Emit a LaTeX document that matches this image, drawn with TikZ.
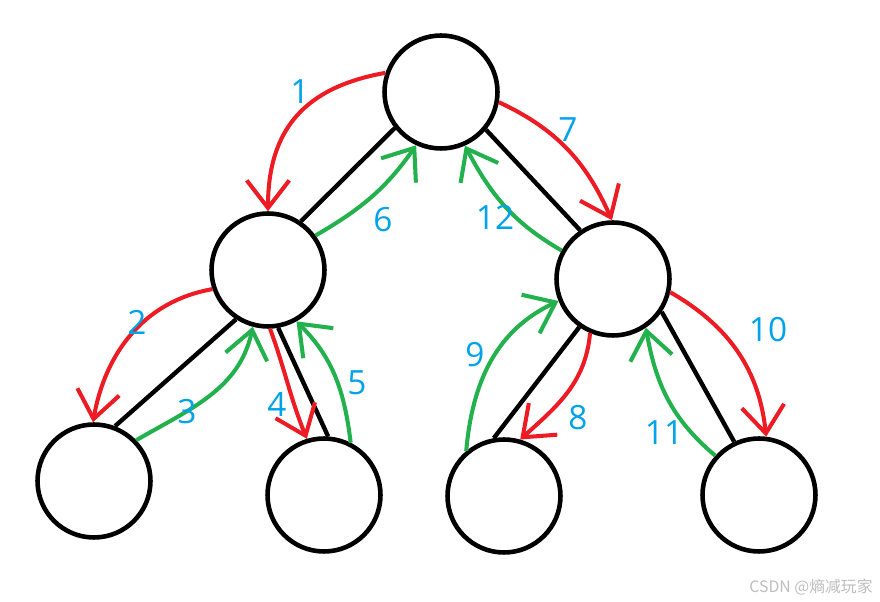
\documentclass[tikz,border=0pt]{standalone}
\usepackage{fontspec}
\setmainfont{Open Sans}
\newfontfamily\cjkfont{Noto Sans CJK SC}
\usetikzlibrary{arrows.meta}
\definecolor{paintred}{RGB}{237,28,36}
\definecolor{paintgreen}{RGB}{34,177,76}
\definecolor{paintblue}{RGB}{0,162,232}
\definecolor{markgray}{RGB}{190,190,190}

\begin{document}
\begin{tikzpicture}[x=0.02cm, y=0.02cm,
		vertex/.style={draw, circle, line width=2.6pt, minimum size=2.26cm, inner sep=0pt},
		link/.style={line width=2.5pt},
		visit/.style={line width=2.3pt, color=paintred, -{Straight Barb[length=0.55cm, width=0.85cm]}},
		backtrack/.style={line width=2.3pt, color=paintgreen, -{Straight Barb[length=0.55cm, width=0.85cm]}},
		num/.style={color=paintblue, font=\fontsize{19}{19}\selectfont, inner sep=0pt}]
		%%%%% START %%%%%
		
		\useasboundingbox (0, 0) rectangle (880, 602);
		
		\node[vertex] (root) at (441, 510) {};
		\node[vertex] (l) at (268, 332) {};
		\node[vertex] (r) at (613, 323) {};
		\node[vertex] (ll) at (94, 121) {};
		\node[vertex] (lr) at (324, 107) {};
		\node[vertex] (rl) at (504, 106) {};
		\node[vertex] (rr) at (759, 107) {};
		
		\draw[link] (root.218) -- (l.56);
		\draw[link] (root.320) -- (r.124);
		\draw[link] (l.237) -- (ll.69);
		\draw[link] (l.280) -- (lr.86);
		\draw[link] (r.235) -- (rl.100);
		\draw[link] (r.326) -- (rr.115);
		
		\draw[visit] (root.161) to[out=190, in=90, looseness=1.15] (l.90);
		\draw[visit] (l.199) to[out=190, in=80] (ll.91);
		\draw[visit] (l.272) to[out=290, in=112] (lr.107);
		\draw[backtrack] (ll.44) to[out=30, in=258] (l.255);
		\draw[backtrack] (lr.63) to[out=97, in=315] (l.299);
		\draw[backtrack] (l.36) to[out=30, in=235] (root.245);
		
		\draw[visit] (root.350) to[out=335, in=114] (r.91);
		\draw[visit] (r.247) to[out=265, in=42] (rl.74);
		\draw[visit] (r.347) to[out=330, in=96] (rr.83);
		\draw[backtrack] (rl.130) to[out=85, in=205] (r.202);
		\draw[backtrack] (rr.138) to[out=140, in=280] (r.304);
		\draw[backtrack] (r.151) to[out=150, in=298] (root.294);
		
		\node[num] (n1) at (300, 510) {1};
		\node[num] (n2) at (137, 280) {2};
		\node[num] (n3) at (187, 190) {3};
		\node[num] (n4) at (277, 197) {4};
		\node[num] (n5) at (357, 219) {5};
		\node[num] (n6) at (383, 382) {6};
		\node[num] (n7) at (568, 472) {7};
		\node[num] (n8) at (578, 184) {8};
		\node[num] (n9) at (475, 247) {9};
		\node[num] (n10) at (768, 272) {10};
		\node[num] (n11) at (664, 169) {11};
		\node[num] (n12) at (495, 385) {12};
		
		\node[color=markgray, font=\cjkfont\fontsize{9}{9}\selectfont, inner sep=0pt] (mark) at (811, 15) {CSDN @熵减玩家};
		
		%%%%% END %%%%%
	\end{tikzpicture}
\end{document}
